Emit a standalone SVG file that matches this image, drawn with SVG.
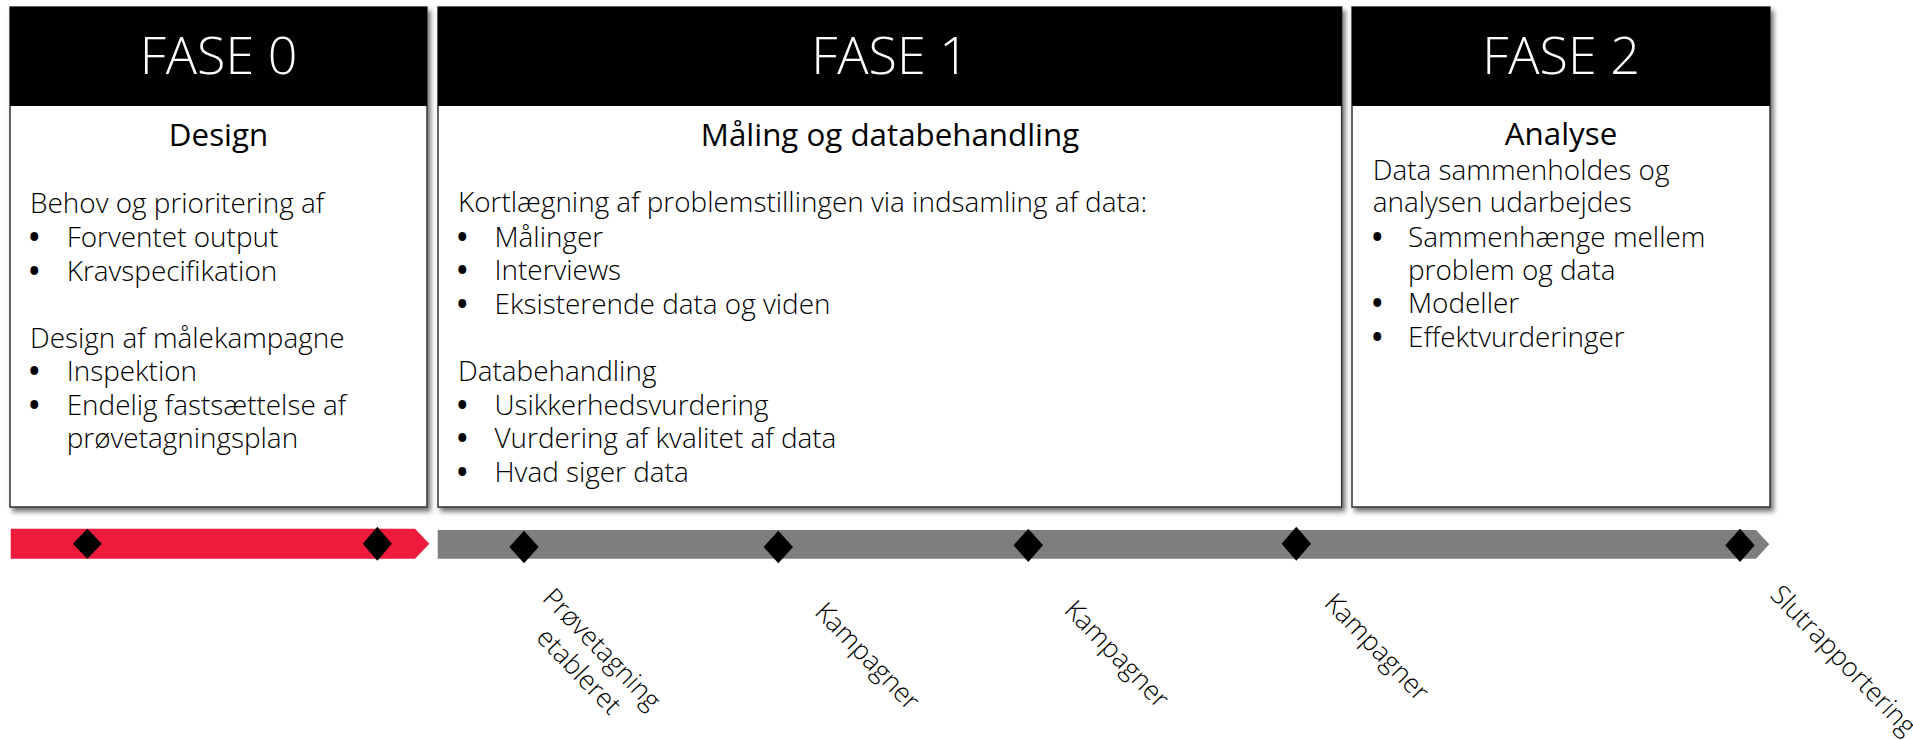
<svg xmlns="http://www.w3.org/2000/svg" width="1913" height="740" viewBox="0 0 1913 740">
<defs>
<filter id="shadow" x="-5%" y="-5%" width="112%" height="112%">
<feDropShadow dx="3" dy="4" stdDeviation="2.5" flood-color="#000" flood-opacity="0.55"/>
</filter>
<style>
.box{fill:#fff;stroke:#333;stroke-width:1.5;filter:url(#shadow)}
.hdr{fill:#000}
.t{font-family:"Open Sans","Liberation Sans",sans-serif;fill:#000}
.phase{font-size:52px;font-weight:300;fill:#fff;text-anchor:middle}
.sub{font-size:31.3px;font-weight:400;text-anchor:middle}
.body{font-size:27.9px;font-weight:300}
.bul{font-size:28px;font-weight:700}
.lbl{font-size:26.5px;font-weight:300}
.mid{text-anchor:middle}
.dia{fill:#000}
</style>
</defs>
<rect width="1913" height="740" fill="#fff"/>

<g id="fase0">
<rect class="box" x="10" y="7" width="417" height="500"/>
<rect class="hdr" x="10" y="7" width="417" height="99"/>
<text class="t phase" x="218.5" y="74">FASE 0</text>
<text class="t sub" x="218.5" y="146">Design</text>
<text class="t body" x="30" y="213.3">Behov og prioritering af</text>
<text class="t bul" x="29" y="247">•</text><text class="t body" x="66.7" y="247">Forventet output</text>
<text class="t bul" x="29" y="280.5">•</text><text class="t body" x="66.7" y="280.5">Kravspecifikation</text>
<text class="t body" x="30" y="347.7">Design af målekampagne</text>
<text class="t bul" x="29" y="381">•</text><text class="t body" x="66.7" y="381">Inspektion</text>
<text class="t bul" x="29" y="415">•</text><text class="t body" x="66.7" y="415">Endelig fastsættelse af</text>
<text class="t body" x="66.7" y="448.3">prøvetagningsplan</text>
</g>

<g id="fase1">
<rect class="box" x="438" y="7" width="903.7" height="500"/>
<rect class="hdr" x="438" y="7" width="903.7" height="99"/>
<text class="t phase" x="890" y="74">FASE 1</text>
<text class="t sub" x="890" y="145.7">Måling og databehandling</text>
<text class="t body" x="458" y="212.3">Kortlægning af problemstillingen via indsamling af data:</text>
<text class="t bul" x="457" y="246.7">•</text><text class="t body" x="494.5" y="246.7">Målinger</text>
<text class="t bul" x="457" y="280">•</text><text class="t body" x="494.5" y="280">Interviews</text>
<text class="t bul" x="457" y="314">•</text><text class="t body" x="494.5" y="314">Eksisterende data og viden</text>
<text class="t body" x="458" y="381">Databehandling</text>
<text class="t bul" x="457" y="415">•</text><text class="t body" x="494.5" y="415">Usikkerhedsvurdering</text>
<text class="t bul" x="457" y="448.3">•</text><text class="t body" x="494.5" y="448.3">Vurdering af kvalitet af data</text>
<text class="t bul" x="457" y="481.7">•</text><text class="t body" x="494.5" y="481.7">Hvad siger data</text>
</g>

<g id="fase2">
<rect class="box" x="1352" y="7" width="418" height="500"/>
<rect class="hdr" x="1352" y="7" width="418" height="99"/>
<text class="t phase" x="1561" y="74">FASE 2</text>
<text class="t sub" x="1561" y="145">Analyse</text>
<text class="t body" x="1372.7" y="180">Data sammenholdes og</text>
<text class="t body" x="1372.7" y="212.3">analysen udarbejdes</text>
<text class="t bul" x="1372" y="246.7">•</text><text class="t body" x="1408" y="246.7">Sammenhænge mellem</text>
<text class="t body" x="1408" y="280">problem og data</text>
<text class="t bul" x="1372" y="313.3">•</text><text class="t body" x="1408" y="313.3">Modeller</text>
<text class="t bul" x="1372" y="346.7">•</text><text class="t body" x="1408" y="346.7">Effektvurderinger</text>
</g>

<g id="timeline">
<polygon id="bar-fase0" fill="#EE1B3C" points="10.7,528.7 415,528.7 429.3,543.7 415,558.7 10.7,558.7"/>
<polygon id="bar-fase1-2" fill="#7E7F7C" points="437.7,530 1756,530 1769.3,544.3 1756,558.7 437.7,558.7"/>
<polygon class="dia" points="87.3,528.7 101.8,543.7 87.3,558.7 72.8,543.7"/>
<polygon class="dia" points="377.3,526.7 391.8,543.7 377.3,560.7 362.8,543.7"/>
<polygon class="dia" points="524,530.7 538.7,547 524,563.3 509.3,547"/>
<polygon class="dia" points="778.3,530.7 793,547 778.3,563.3 763.6,547"/>
<polygon class="dia" points="1028.3,528.7 1043,545.3 1028.3,562 1013.6,545.3"/>
<polygon class="dia" points="1296.3,526.7 1311,543.7 1296.3,560.7 1281.6,543.7"/>
<polygon class="dia" points="1740,528.7 1754.7,545.3 1740,562 1725.3,545.3"/>
</g>

<g id="labels">
<g transform="translate(588.5,662) rotate(46)">
<text class="t lbl mid" x="0" y="-9.7">Prøvetagning</text>
<text class="t lbl mid" x="0" y="22.3">etableret</text>
</g>
<text class="t lbl mid" transform="translate(865.5,658) rotate(46)" x="0" y="6.3">Kampagner</text>
<text class="t lbl mid" transform="translate(1115,656) rotate(46)" x="0" y="6.3">Kampagner</text>
<text class="t lbl mid" transform="translate(1375,649) rotate(46)" x="0" y="6.3">Kampagner</text>
<text class="t lbl" transform="translate(1769,596) rotate(46)" x="0" y="0">Slutrapportering</text>
</g>
</svg>
